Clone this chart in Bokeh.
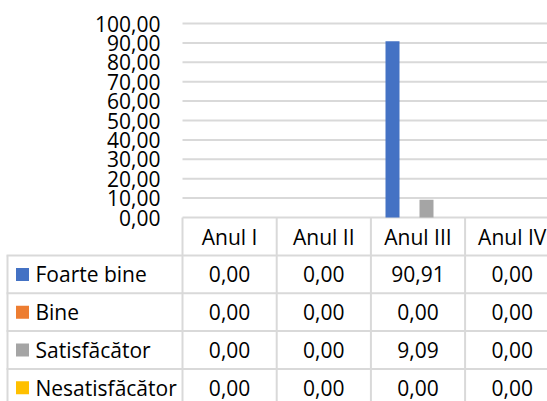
from bokeh.plotting import figure
from bokeh.models import Range1d, FixedTicker, CustomJSTickFormatter, ColumnDataSource
from bokeh.transform import dodge
from bokeh.core.properties import value
from bokeh.embed import file_html
from bokeh.resources import INLINE

# ---------------- data ----------------
categories = ["Anul I", "Anul II", "Anul III", "Anul IV"]
series_names = ["Foarte bine", "Bine", "Satisfăcător", "Nesatisfăcător"]
foarte_bine = [0.00, 0.00, 90.91, 0.00]
bine = [0.00, 0.00, 0.00, 0.00]
satisfacator = [0.00, 0.00, 9.09, 0.00]
nesatisfacator = [0.00, 0.00, 0.00, 0.00]
series_values = [foarte_bine, bine, satisfacator, nesatisfacator]
series_colors = ["#4472C4", "#ED7D31", "#A5A5A5", "#FFC000"]
y_ticks = [0, 10, 20, 30, 40, 50, 60, 70, 80, 90, 100]

# ---------------- style / layout ----------------
FONT = value("Open Sans")
FS = "21px"
TXT = "#000000"
GRID = "#d9d9d9"
W, H = 547, 401
COL = 94.2            # px per category column
PLOT_LEFT = 182.0     # px where the category area starts
PX_PER_UNIT = 1.94    # px per value unit
Y0_PX = 217.0         # px where value 0 lies (from top)

def fmt(v):
    return f"{v:.2f}".replace(".", ",")

xs = -PLOT_LEFT / COL
p = figure(width=W, height=H, output_backend="svg", toolbar_location=None,
           x_range=Range1d(xs, xs + W / COL),
           y_range=Range1d((Y0_PX - H) / PX_PER_UNIT, Y0_PX / PX_PER_UNIT),
           x_axis_location=None, min_border=0)
p.extra_x_ranges = {"px": Range1d(0, W)}
p.extra_y_ranges = {"py": Range1d(H, 0)}
p.outline_line_color = None
p.background_fill_color = "white"
p.border_fill_color = "white"
p.grid.visible = False

ax = p.yaxis[0]
ax.fixed_location = 0
ax.ticker = FixedTicker(ticks=y_ticks)
ax.formatter = CustomJSTickFormatter(code="return tick.toFixed(2).replace('.', ',');")
ax.axis_line_color = None
ax.major_tick_line_color = None
ax.minor_tick_line_color = None
ax.major_tick_out = 0
ax.major_tick_in = 0
ax.major_label_standoff = 22
ax.major_label_text_font = "Open Sans"
ax.major_label_text_font_size = FS
ax.major_label_text_color = TXT

# gridlines across the category area
n = len(categories)
p.segment(x0=[0] * len(y_ticks), y0=y_ticks, x1=[n + 1] * len(y_ticks), y1=y_ticks,
          line_color=GRID, line_width=2)

# bars
src = ColumnDataSource(dict(
    x=[i + 0.5 for i in range(n)],
    s0=series_values[0], s1=series_values[1], s2=series_values[2], s3=series_values[3],
))
for k in range(4):
    off = (k - 1.5) * 17.0 / COL
    p.vbar(x=dodge("x", off, range=p.x_range), top=f"s{k}", bottom=0,
           width=14.0 / COL, source=src, fill_color=series_colors[k], line_color=None)

# ---------------- data table (pixel coordinates) ----------------
row_top = 255.0
row_h = 37.8
vx = [7.0] + [PLOT_LEFT + COL * i for i in range(n)]
vy0 = [row_top] + [Y0_PX] * n
p.segment(x0=vx, y0=vy0, x1=vx, y1=[H + 5] * len(vx), line_color=GRID, line_width=2,
          x_range_name="px", y_range_name="py")
hy = [row_top + row_h * k for k in range(4)]
p.segment(x0=[6] * 4, y0=hy, x1=[W + 2] * 4, y1=hy, line_color=GRID, line_width=2,
          x_range_name="px", y_range_name="py")

centers = [PLOT_LEFT + COL * (i + 0.5) for i in range(n)]
p.text(x=centers, y=[(Y0_PX + row_top) / 2] * n, text=categories, text_font=FONT,
       text_font_size=FS, text_color=TXT, text_align="center", text_baseline="middle",
       x_range_name="px", y_range_name="py")

for k in range(4):
    yc = row_top + row_h * k + row_h / 2
    p.rect(x=[22], y=[yc], width=13, height=13, fill_color=series_colors[k], line_color=None,
           x_range_name="px", y_range_name="py")
    p.text(x=[35], y=[yc], text=[series_names[k]], text_font=FONT, text_font_size=FS,
           text_color=TXT, text_align="left", text_baseline="middle",
           x_range_name="px", y_range_name="py")
    p.text(x=centers, y=[yc] * n, text=[fmt(v) for v in series_values[k]],
           text_font=FONT, text_font_size=FS, text_color=TXT,
           text_align="center", text_baseline="middle",
           x_range_name="px", y_range_name="py")

open("out.html", "w").write(file_html(p, INLINE))
